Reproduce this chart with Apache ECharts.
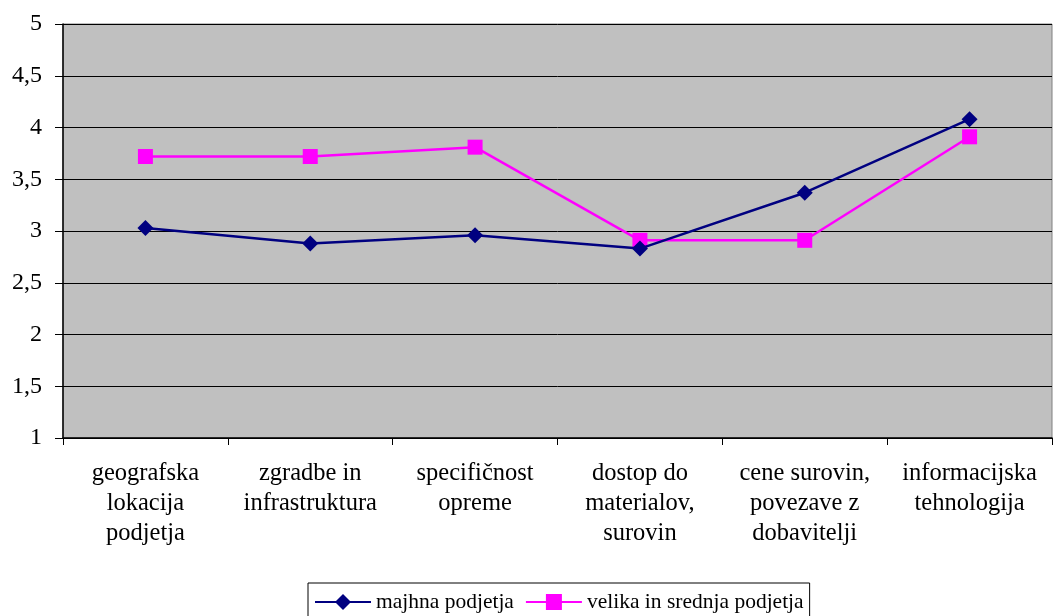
<!DOCTYPE html>
<html><head><meta charset="utf-8">
<script src="https://cdn.jsdelivr.net/npm/echarts@6/dist/echarts.min.js"></script>
<style>html,body{margin:0;padding:0;background:#fff}#c{width:1053px;height:616px}</style>
</head><body><div id="c"></div>
<script>
const categories = ['geografska\nlokacija\npodjetja','zgradbe in\ninfrastruktura','specifičnost\nopreme','dostop do\nmaterialov,\nsurovin','cene surovin,\npovezave z\ndobavitelji','informacijska\ntehnologija'];
const seriesNames = ['majhna podjetja','velika in srednja podjetja'];
const majhna = [3.03, 2.88, 2.96, 2.83, 3.37, 4.08];
const velika = [3.72, 3.72, 3.81, 2.91, 2.91, 3.91];
const yMin = 1, yMax = 5, yStep = 0.5;

const font = '"Liberation Serif","Times New Roman",serif';
const chart = echarts.init(document.getElementById('c'), null, {renderer:'canvas'});
chart.setOption({
  animation:false,
  backgroundColor:'#fff',
  textStyle:{fontFamily:font},
  grid:{left:63,right:1,top:24,bottom:178,show:true,backgroundColor:'#c0c0c0',borderColor:'#808080',borderWidth:1},
  legend:{
    data:seriesNames, left:308, top:583, padding:[8,6,5,6], itemGap:11,
    itemWidth:56, itemHeight:20, borderColor:'#000', borderWidth:1,
    textStyle:{fontFamily:font,fontSize:21.5,color:'#000'}
  },
  xAxis:{
    type:'category', data:categories, boundaryGap:true,
    axisLine:{lineStyle:{color:'#000',width:1.5}},
    axisTick:{show:true,interval:0,length:7,lineStyle:{color:'#000'}},
    axisLabel:{interval:0,color:'#000',fontFamily:font,fontSize:24.5,lineHeight:30,margin:21,align:'center'},
    splitLine:{show:false}
  },
  yAxis:{
    type:'value', min:yMin, max:yMax, interval:yStep,
    axisLine:{show:true,lineStyle:{color:'#000',width:1.5}},
    axisTick:{show:true,length:8,lineStyle:{color:'#000'}},
    axisLabel:{color:'#000',fontFamily:font,fontSize:24,margin:21,formatter:v=>String(v).replace('.',',')},
    splitLine:{show:true,lineStyle:{color:'#000',width:1}}
  },
  series:[
    {name:seriesNames[0],type:'line',data:majhna,symbol:'diamond',symbolSize:16,
     lineStyle:{color:'#000080',width:2.5},itemStyle:{color:'#000080'},z:3},
    {name:seriesNames[1],type:'line',data:velika,symbol:'rect',symbolSize:15,
     lineStyle:{color:'#ff00ff',width:2.5},itemStyle:{color:'#ff00ff'},z:2}
  ]
});
</script></body></html>
